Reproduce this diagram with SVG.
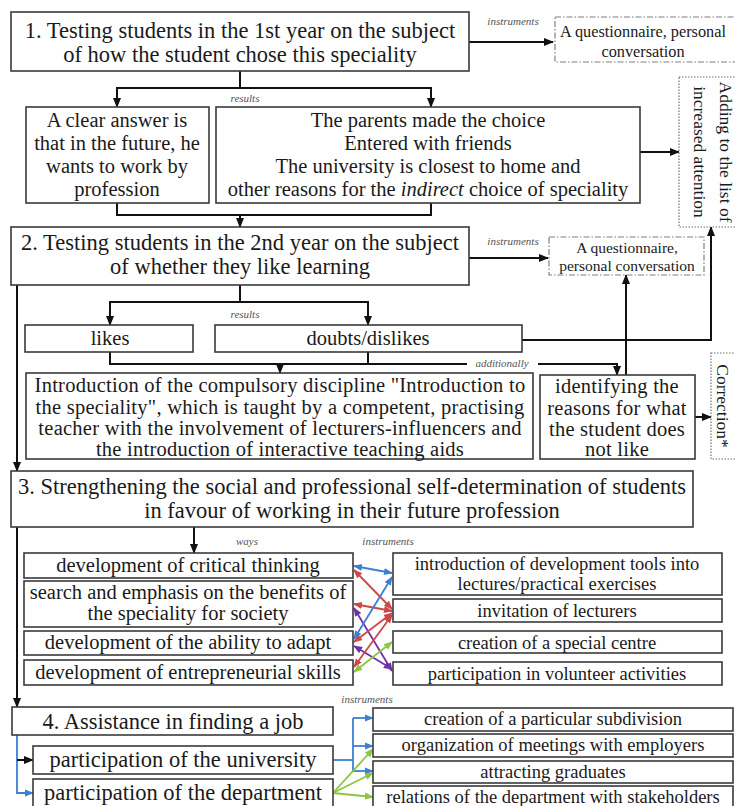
<svg xmlns="http://www.w3.org/2000/svg" width="735" height="806" viewBox="0 0 735 806">
<style>
.box{fill:#fff;stroke:#3a3a3a;stroke-width:1.6}
.dd{fill:#fff;stroke:#808080;stroke-width:1.2;stroke-dasharray:6 2 1.5 2}
.dot{fill:#fff;stroke:#707070;stroke-width:1.2;stroke-dasharray:1.5 1.5}
.t{font-family:"Liberation Serif","Times New Roman",serif;fill:#1a1a1a;text-anchor:middle}
.h{font-size:22.5px}
.m{font-size:20.5px}
.n{font-size:20.5px;letter-spacing:0.25px}
.w{font-size:20.5px}
.i{font-size:18.5px}
.s{font-size:16.3px}
.s2{font-size:15.5px}
.v{font-size:17.5px}
.lbl{font-family:"Liberation Serif","Times New Roman",serif;font-size:11px;font-style:italic;fill:#555;text-anchor:middle}
.ln{fill:none;stroke:#111;stroke-width:2}
.bl{fill:none;stroke:#3d7fd1;stroke-width:1.8}
.rd{fill:none;stroke:#d04646;stroke-width:1.8}
.pu{fill:none;stroke:#7131a6;stroke-width:1.8}
.gr{fill:none;stroke:#8cc63e;stroke-width:1.8}
</style>
<defs>
<marker id="ak" viewBox="0 0 10 10" refX="9" refY="5" markerWidth="10" markerHeight="10" markerUnits="userSpaceOnUse" orient="auto"><path d="M0,1 L10,5 L0,9 z" fill="#111"/></marker>
<marker id="ab" viewBox="0 0 10 10" refX="9" refY="5" markerWidth="9" markerHeight="9" markerUnits="userSpaceOnUse" orient="auto-start-reverse"><path d="M0,1 L10,5 L0,9 z" fill="#3d7fd1"/></marker>
<marker id="ar" viewBox="0 0 10 10" refX="9" refY="5" markerWidth="9" markerHeight="9" markerUnits="userSpaceOnUse" orient="auto-start-reverse"><path d="M0,1 L10,5 L0,9 z" fill="#d04646"/></marker>
<marker id="ap" viewBox="0 0 10 10" refX="9" refY="5" markerWidth="9" markerHeight="9" markerUnits="userSpaceOnUse" orient="auto-start-reverse"><path d="M0,1 L10,5 L0,9 z" fill="#7131a6"/></marker>
<marker id="ag" viewBox="0 0 10 10" refX="9" refY="5" markerWidth="9" markerHeight="9" markerUnits="userSpaceOnUse" orient="auto-start-reverse"><path d="M0,1 L10,5 L0,9 z" fill="#8cc63e"/></marker>
</defs>
<rect width="735" height="806" fill="#fff"/>

<g id="connectors">
<path class="ln" d="M469,42 H553" marker-end="url(#ak)"/>
<path class="ln" d="M240,71 V88"/>
<path class="ln" d="M240,88 H117 V107" marker-end="url(#ak)"/>
<path class="ln" d="M240,88 H431 V107" marker-end="url(#ak)"/>
<path class="ln" d="M640,152 H679" marker-end="url(#ak)"/>
<path class="ln" d="M117,203 V215 H431 V203"/>
<path class="ln" d="M240,215 V227" marker-end="url(#ak)"/>
<path class="ln" d="M469,258 H548" marker-end="url(#ak)"/>
<path class="ln" d="M240,285 V302"/>
<path class="ln" d="M240,302 H110 V325" marker-end="url(#ak)"/>
<path class="ln" d="M240,302 H368 V325" marker-end="url(#ak)"/>
<path class="ln" d="M522,340 H711 V227" marker-end="url(#ak)"/>
<path class="ln" d="M110,352 V364 H368 V352"/>
<path class="ln" d="M280,364 V373" marker-end="url(#ak)"/>
<path class="ln" d="M368,364 H467"/>
<path class="ln" d="M538,364 H617 V375" marker-end="url(#ak)"/>
<path class="ln" d="M626,375 V275" marker-end="url(#ak)"/>
<path class="ln" d="M695,417 H711" marker-end="url(#ak)"/>
<path class="ln" d="M17,285 V471" marker-end="url(#ak)"/>
<path class="ln" d="M17,527 V707" marker-end="url(#ak)"/>
<path class="ln" d="M194,527 V553" marker-end="url(#ak)"/>
<path class="bl" d="M354,566 L392,573" marker-start="url(#ab)" marker-end="url(#ab)"/>
<path class="rd" d="M354,570 L392,609" marker-start="url(#ar)" marker-end="url(#ar)"/>
<path class="rd" d="M354,604 L392,611" marker-start="url(#ar)" marker-end="url(#ar)"/>
<path class="pu" d="M354,608 L392,671" marker-start="url(#ap)" marker-end="url(#ap)"/>
<path class="bl" d="M354,639 L392,577" marker-start="url(#ab)" marker-end="url(#ab)"/>
<path class="rd" d="M354,642 L392,613" marker-start="url(#ar)" marker-end="url(#ar)"/>
<path class="pu" d="M354,646 L392,669" marker-start="url(#ap)" marker-end="url(#ap)"/>
<path class="rd" d="M354,667 L392,615" marker-start="url(#ar)" marker-end="url(#ar)"/>
<path class="gr" d="M354,672 L392,642" marker-start="url(#ag)" marker-end="url(#ag)"/>
<path class="bl" d="M17,735 V793 H33" marker-end="url(#ab)"/>
<path class="ln" d="M17,760 H33" marker-end="url(#ak)"/>
<path class="bl" d="M333,760 H353"/>
<path class="bl" d="M353,718 V771"/>
<path class="bl" d="M353,718 H373" marker-end="url(#ab)"/>
<path class="bl" d="M353,746 H373" marker-end="url(#ab)"/>
<path class="bl" d="M353,771 H373" marker-end="url(#ab)"/>
<path class="gr" d="M333,793 L373,749" marker-end="url(#ag)"/>
<path class="gr" d="M333,793 L373,773" marker-end="url(#ag)"/>
<path class="gr" d="M333,793 L373,797" marker-end="url(#ag)"/>
<text class="lbl" x="513" y="25">instruments</text>
<text class="lbl" x="245" y="102">results</text>
<text class="lbl" x="513" y="245">instruments</text>
<text class="lbl" x="245" y="318">results</text>
<text class="lbl" x="502" y="367">additionally</text>
<text class="lbl" x="247" y="545">ways</text>
<text class="lbl" x="388" y="545">instruments</text>
<text class="lbl" x="367" y="703">instruments</text>
</g>

<g id="n1"><rect class="box" x="11" y="12" width="458" height="59"/>
<text class="t h" x="240" y="38">1. Testing students in the 1st year on the subject</text>
<text class="t h" x="240" y="62">of how the student chose this speciality</text></g>

<g id="n1i"><rect class="dd" x="555" y="17" width="190" height="45"/>
<text class="t s" x="643" y="37">A questionnaire, personal</text>
<text class="t s" x="643" y="56.5">conversation</text></g>

<g id="n1a"><rect class="box" x="26" y="107" width="183" height="96"/>
<text class="t m" x="117" y="127">A clear answer is</text>
<text class="t m" x="117" y="150">that in the future, he</text>
<text class="t m" x="117" y="173">wants to work by</text>
<text class="t m" x="117" y="196">profession</text></g>

<g id="n1b"><rect class="box" x="216" y="107" width="424" height="96"/>
<text class="t m" x="428" y="127">The parents made the choice</text>
<text class="t m" x="428" y="150">Entered with friends</text>
<text class="t m" x="428" y="173">The university is closest to home and</text>
<text class="t m" x="428" y="196">other reasons for the <tspan font-style="italic">indirect</tspan> choice of speciality</text></g>

<g id="nadd"><rect class="dot" x="679" y="77" width="70" height="150"/>
<text class="t v" transform="translate(720,152) rotate(90)">Adding to the list of</text>
<text class="t v" transform="translate(694,152) rotate(90)">increased attention</text></g>

<g id="n2"><rect class="box" x="11" y="227" width="458" height="58"/>
<text class="t h" x="240" y="250">2. Testing students in the 2nd year on the subject</text>
<text class="t h" x="240" y="274">of whether they like learning</text></g>

<g id="n2i"><rect class="dd" x="549" y="237" width="155" height="38"/>
<text class="t s2" x="627" y="252.5">A questionnaire,</text>
<text class="t s2" x="627" y="270.5">personal conversation</text></g>

<g id="nlikes"><rect class="box" x="25" y="325" width="168" height="27"/>
<text class="t m" x="110" y="345">likes</text></g>

<g id="ndoubts"><rect class="box" x="215" y="325" width="307" height="27"/>
<text class="t m" x="368" y="345">doubts/dislikes</text></g>

<g id="nintro"><rect class="box" x="26" y="373" width="507" height="86"/>
<text class="t n" x="280" y="392">Introduction of the compulsory discipline "Introduction to</text>
<text class="t n" x="280" y="413.5">the speciality", which is taught by a competent, practising</text>
<text class="t n" x="280" y="435">teacher with the involvement of lecturers-influencers and</text>
<text class="t n" x="280" y="456">the introduction of interactive teaching aids</text></g>

<g id="nident"><rect class="box" x="540" y="375" width="155" height="84"/>
<text class="t n" x="617" y="393">identifying the</text>
<text class="t n" x="617" y="414.5">reasons for what</text>
<text class="t n" x="617" y="436">the student does</text>
<text class="t n" x="617" y="456">not like</text></g>

<g id="ncorr"><rect class="dot" x="711" y="353" width="40" height="106"/>
<text class="t v" transform="translate(717,406) rotate(90)">Correction*</text></g>

<g id="n3"><rect class="box" x="11" y="471" width="682" height="56"/>
<text class="t h" x="352" y="494">3. Strengthening the social and professional self-determination of students</text>
<text class="t h" x="352" y="518">in favour of working in their future profession</text></g>

<g id="w1"><rect class="box" x="24" y="553" width="329" height="25"/>
<text class="t w" x="188" y="572">development of critical thinking</text></g>
<g id="w2"><rect class="box" x="24" y="581" width="329" height="46"/>
<text class="t w" x="188" y="599">search and emphasis on the benefits of</text>
<text class="t w" x="188" y="620">the speciality for society</text></g>
<g id="w3"><rect class="box" x="24" y="631" width="329" height="24"/>
<text class="t w" x="188" y="649">development of the ability to adapt</text></g>
<g id="w4"><rect class="box" x="24" y="660" width="329" height="25"/>
<text class="t w" x="188" y="679">development of entrepreneurial skills</text></g>

<g id="i1"><rect class="box" x="393" y="553" width="329" height="42"/>
<text class="t i" x="557" y="570">introduction of development tools into</text>
<text class="t i" x="557" y="590">lectures/practical exercises</text></g>
<g id="i2"><rect class="box" x="393" y="599" width="329" height="23"/>
<text class="t i" x="557" y="616.5">invitation of lecturers</text></g>
<g id="i3"><rect class="box" x="393" y="631" width="329" height="22"/>
<text class="t i" x="557" y="648.5">creation of a special centre</text></g>
<g id="i4"><rect class="box" x="393" y="662" width="329" height="23"/>
<text class="t i" x="557" y="679.5">participation in volunteer activities</text></g>

<g id="n4"><rect class="box" x="12" y="707" width="321" height="28"/>
<text class="t h" x="173" y="729">4. Assistance in finding a job</text></g>

<g id="nuni"><rect class="box" x="33" y="746" width="300" height="28"/>
<text class="t h" x="183" y="767">participation of the university</text></g>
<g id="ndep"><rect class="box" x="33" y="779" width="300" height="32"/>
<text class="t h" x="183" y="800">participation of the department</text></g>

<g id="j1"><rect class="box" x="373" y="708" width="360" height="23"/>
<text class="t i" x="553" y="725">creation of a particular subdivision</text></g>
<g id="j2"><rect class="box" x="373" y="734" width="360" height="23"/>
<text class="t i" x="553" y="751">organization of meetings with employers</text></g>
<g id="j3"><rect class="box" x="373" y="761" width="360" height="22"/>
<text class="t i" x="553" y="778">attracting graduates</text></g>
<g id="j4"><rect class="box" x="373" y="786" width="360" height="24"/>
<text class="t i" x="553" y="803">relations of the department with stakeholders</text></g>
</svg>
